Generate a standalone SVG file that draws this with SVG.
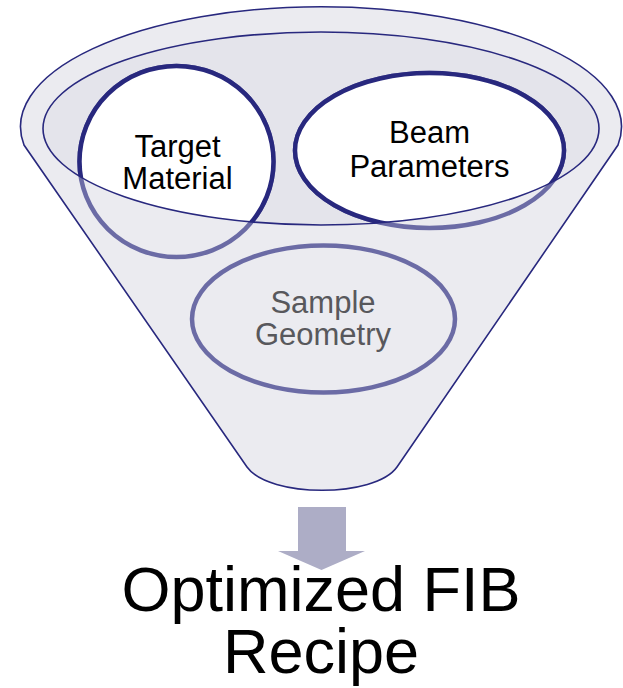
<svg xmlns="http://www.w3.org/2000/svg" width="623" height="688" viewBox="0 0 623 688">
  <style>
    .edge { stroke: #28287E; stroke-width: 1.6; }
    .lbl { font-family: "Liberation Sans", Arial, sans-serif; font-size: 31px; text-anchor: middle; fill: #000; }
    .lbl-dim { fill: #58585C; }
    .ring-dim { fill: none; stroke: #6B6BA5; stroke-width: 4.5; }
    .ring { fill: #FFFFFF; stroke: #28287E; stroke-width: 4.5; }
    .big { font-family: "Liberation Sans", Arial, sans-serif; font-size: 63px; text-anchor: middle; fill: #000; }
  </style>
  <defs>
    <clipPath id="mouth">
      <ellipse cx="321" cy="128.5" rx="278" ry="96.5"/>
    </clipPath>
  </defs>
  <rect width="623" height="688" fill="#FFFFFF"/>

  <g id="funnel">
    <path class="edge" fill="#EBEBF0" d="M24,145 A300.5,120 0 1 1 618,145 L397,467 C375,498 269,498 247,467 Z"/>
    <ellipse cx="321" cy="128.5" rx="278" ry="96.5" fill="#E4E4EB"/>
  </g>

  <g id="sample-geometry">
    <ellipse class="ring-dim" cx="323.5" cy="319" rx="131.5" ry="73.5"/>
    <text class="lbl lbl-dim" x="323" y="313">Sample</text>
    <text class="lbl lbl-dim" x="323" y="345">Geometry</text>
  </g>

  <g id="target-material">
    <ellipse class="ring-dim" cx="176.5" cy="161.5" rx="97" ry="95.5"/>
    <ellipse class="ring" clip-path="url(#mouth)" cx="176.5" cy="161.5" rx="97" ry="95.5"/>
    <text class="lbl" x="177.5" y="157">Target</text>
    <text class="lbl" x="177.5" y="189">Material</text>
  </g>

  <g id="beam-parameters">
    <ellipse class="ring-dim" cx="429.5" cy="150.5" rx="134.5" ry="77.5"/>
    <ellipse class="ring" clip-path="url(#mouth)" cx="429.5" cy="150.5" rx="134.5" ry="77.5"/>
    <text class="lbl" x="429.5" y="143">Beam</text>
    <text class="lbl" x="429.5" y="177">Parameters</text>
  </g>

  <g id="funnel-rim">
    <ellipse class="edge" fill="none" cx="321" cy="128.5" rx="278" ry="96.5"/>
  </g>

  <g id="connectors">
    <path fill="#ADADC6" d="M298,507 L346,507 L346,551 L365,551 L321.5,570 L278,551 L298,551 Z"/>
  </g>

  <g id="result">
    <text class="big" x="321" y="611">Optimized FIB</text>
    <text class="big" x="321" y="673">Recipe</text>
  </g>
</svg>
